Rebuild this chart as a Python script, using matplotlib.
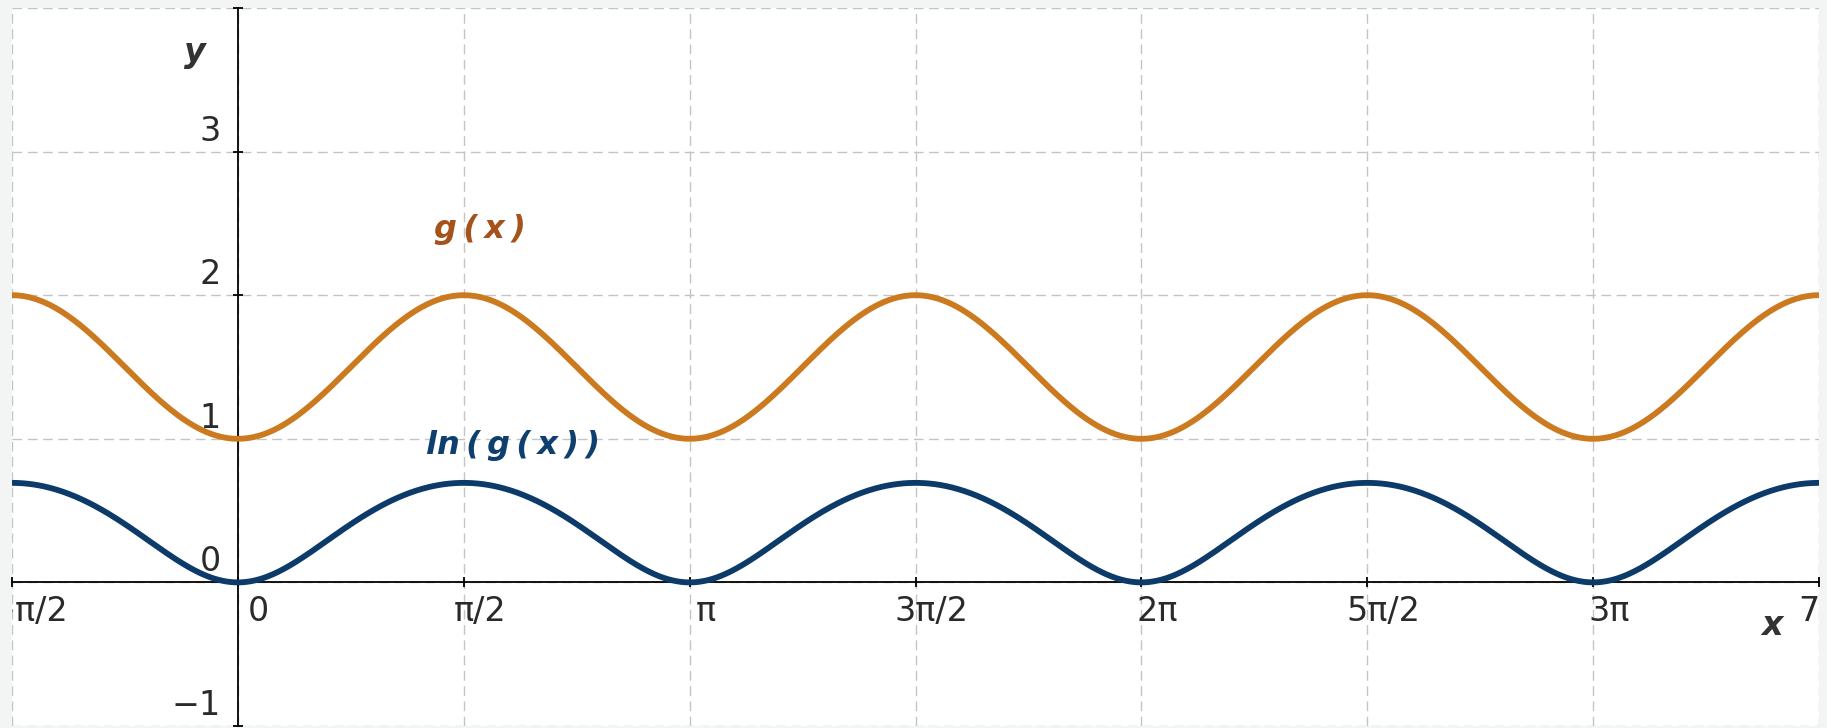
import numpy as np
import matplotlib.pyplot as plt
import matplotlib.transforms as mtransforms

# values
g_min = 1.0          # g at x = 0, pi, 2pi, 3pi
g_max = 2.0          # g at x = pi/2, 3pi/2, ...
x_range = [-np.pi / 2, 7 * np.pi / 2]
y_range = [-1, 4]

x_ticks = [-np.pi / 2, 0, np.pi / 2, np.pi, 3 * np.pi / 2, 2 * np.pi,
           5 * np.pi / 2, 3 * np.pi, 7 * np.pi / 2]
x_tick_labels = ["\u2212\u03c0/2", "0", "\u03c0/2", "\u03c0", "3\u03c0/2", "2\u03c0",
                 "5\u03c0/2", "3\u03c0", "7\u03c0/2"]
y_ticks = [-1, 0, 1, 2, 3, 4]
y_tick_labels = ["\u22121", "0", "1", "2", "3", ""]

orange = "#cc7a1f"
orange_txt = "#a5531a"
blue = "#0c3b6a"
blue_txt = "#0e3f6e"

x = np.linspace(x_range[0], x_range[1], 2000)
g = g_min + (g_max - g_min) * np.sin(x) ** 2
ln_g = np.log(g)

fig = plt.figure(figsize=(18.27, 7.28), dpi=100, facecolor="#f3f5f5")
ax = fig.add_axes([12 / 1827, 2 / 728, 1807 / 1827, 718 / 728])
ax.set_facecolor("white")
ax.set_xlim(x_range)
ax.set_ylim(y_range)

# dashed grid
for xv in x_ticks:
    ax.axvline(xv, color="#c4c4c4", lw=1.0, ls=(0, (7, 4)), zorder=0)
for yv in y_ticks:
    ax.axhline(yv, color="#c4c4c4", lw=1.0, ls=(0, (7, 4)), zorder=0)

# axes through the origin
for s in ["top", "right"]:
    ax.spines[s].set_visible(False)
ax.spines["left"].set_position(("data", 0))
ax.spines["bottom"].set_position(("data", 0))
ax.spines["left"].set_linewidth(1.3)
ax.spines["bottom"].set_linewidth(1.3)
ax.set_xticks(x_ticks)
ax.set_yticks(y_ticks)
ax.set_xticklabels([])
ax.set_yticklabels([])
ax.tick_params(direction="inout", length=7, width=1.3, color="black")

ax.plot(x, g, color=orange, lw=4.2, solid_capstyle="butt", zorder=3)
ax.plot(x, ln_g, color=blue, lw=4.2, solid_capstyle="butt", zorder=3)

# tick labels, clipped to the plot area like the original
for xv, lab in zip(x_ticks, x_tick_labels):
    dx = 20 if lab == "0" else 16
    tr = mtransforms.offset_copy(ax.transData, fig=fig, x=dx, y=-13, units="dots")
    ax.text(xv, 0, lab, transform=tr, ha="center", va="top", fontsize=24,
            color="#2a2a2a", clip_on=True)
for yv, lab in zip(y_ticks, y_tick_labels):
    if not lab:
        continue
    tr = mtransforms.offset_copy(ax.transData, fig=fig, x=-17, y=4, units="dots")
    ax.text(0, yv, lab, transform=tr, ha="right", va="bottom", fontsize=24,
            color="#2a2a2a", clip_on=True)

# axis names and curve labels
ax.text(-0.30, 3.69, "y", fontsize=24, fontweight="bold", fontstyle="italic",
        color="#333333", ha="center", va="center")
ax.text(10.67, -0.30, "x", fontsize=24, fontweight="bold", fontstyle="italic",
        color="#333333", ha="center", va="center")
ax.text(1.68, 2.46, "g\u2009(\u2009x\u2009)", fontsize=23, fontweight="bold",
        fontstyle="italic", color=orange_txt, ha="center", va="center")
ax.text(1.91, 0.95, "ln\u2009(\u2009g\u2009(\u2009x\u2009)\u2009)", fontsize=23,
        fontweight="bold", fontstyle="italic", color=blue_txt,
        ha="center", va="center")

fig.savefig("out.png", dpi=100, facecolor=fig.get_facecolor())
